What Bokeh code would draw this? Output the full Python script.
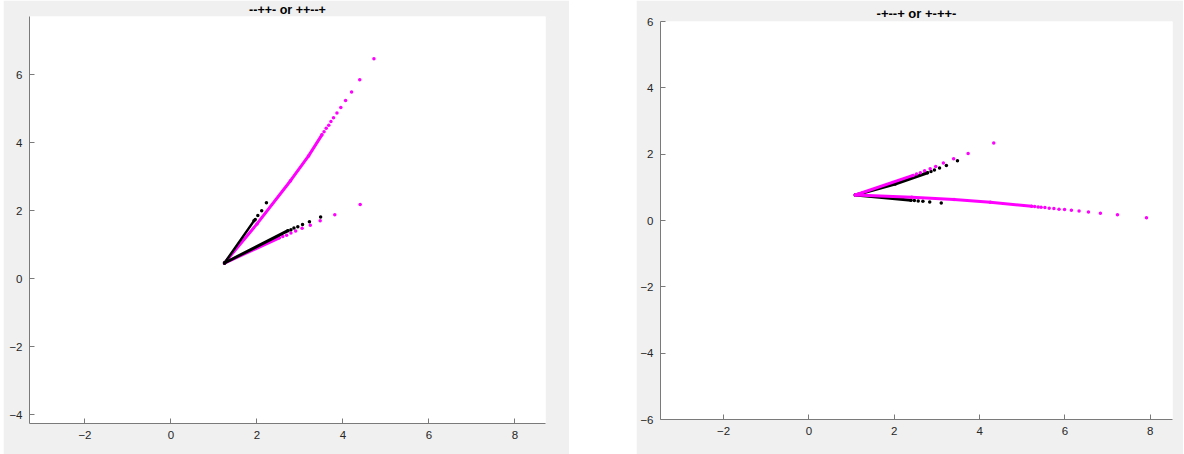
from bokeh.plotting import figure
from bokeh.layouts import row, column
from bokeh.models import Range1d, FixedTicker, Spacer
from bokeh.embed import file_html
from bokeh.resources import INLINE

# ---------------- data: left panel "--++- or ++--+" ----------------
LU_mag_band_x = [1.245, 2.0, 2.78, 3.2, 3.51]
LU_mag_band_y = [0.47, 1.62, 2.89, 3.62, 4.24]
LU_mag_dots_x = [3.56, 3.61, 3.67, 3.72, 3.78, 3.86, 3.95, 4.06, 4.20, 4.39, 4.72]
LU_mag_dots_y = [4.33, 4.43, 4.52, 4.63, 4.74, 4.88, 5.04, 5.25, 5.50, 5.86, 6.48]

LU_blk_band_x = [1.245, 1.93]
LU_blk_band_y = [0.47, 1.71]
LU_blk_dots_x = [1.96, 2.02, 2.11, 2.22]
LU_blk_dots_y = [1.75, 1.87, 2.01, 2.24]

LL_mag_band_x = [1.245, 2.52]
LL_mag_band_y = [0.47, 1.21]
LL_mag_dots_x = [2.60, 2.69, 2.79, 2.90, 3.05, 3.24, 3.47, 3.81, 4.40]
LL_mag_dots_y = [1.25, 1.29, 1.35, 1.41, 1.49, 1.58, 1.71, 1.89, 2.19]

LL_blk_band_x = [1.245, 2.72]
LL_blk_band_y = [0.47, 1.42]
LL_blk_dots_x = [2.79, 2.86, 2.95, 3.06, 3.22, 3.48]
LL_blk_dots_y = [1.45, 1.50, 1.54, 1.60, 1.68, 1.82]

# ---------------- data: right panel "-+--+ or +-++-" ----------------
RU_mag_band_x = [1.087, 2.44]
RU_mag_band_y = [0.77, 1.36]
RU_mag_dots_x = [2.52, 2.61, 2.71, 2.84, 2.97, 3.15, 3.39, 3.73, 4.33]
RU_mag_dots_y = [1.40, 1.44, 1.50, 1.56, 1.63, 1.73, 1.86, 2.02, 2.34]

RU_blk_band_x = [1.087, 2.02, 2.78]
RU_blk_band_y = [0.77, 1.10, 1.44]
RU_blk_dots_x = [2.86, 2.94, 3.06, 3.22, 3.48]
RU_blk_dots_y = [1.48, 1.52, 1.58, 1.66, 1.80]

RL_blk_band_x = [1.087, 2.39]
RL_blk_band_y = [0.77, 0.61]
RL_blk_dots_x = [2.47, 2.56, 2.67, 2.83, 3.10]
RL_blk_dots_y = [0.60, 0.59, 0.58, 0.56, 0.53]

RL_mag_band_x = [1.087, 2.41, 3.40, 4.25, 5.22]
RL_mag_band_y = [0.77, 0.70, 0.63, 0.55, 0.43]
RL_mag_dots_x = [5.29, 5.37, 5.44, 5.53, 5.63, 5.74, 5.86, 5.99, 6.15, 6.33, 6.55, 6.83, 7.23, 7.91]
RL_mag_dots_y = [0.42, 0.41, 0.40, 0.39, 0.37, 0.36, 0.34, 0.33, 0.31, 0.29, 0.26, 0.22, 0.17, 0.08]

left_title = "--++- or ++--+"
right_title = "-+--+ or +-++-"
left_xticks = [-2, 0, 2, 4, 6, 8]
left_yticks = [-4, -2, 0, 2, 4, 6]
right_xticks = [-2, 0, 2, 4, 6, 8]
right_yticks = [-6, -4, -2, 0, 2, 4, 6]

MAG = "#ff00ff"
BLK = "#000000"
FONT = "Liberation Sans"
PANEL = "#f0f0f0"


def make_fig(title, xr, yr, xt, yt, w, h, bl, br, bt, bb, tsize, tstand):
    p = figure(width=w, height=h, output_backend="svg", toolbar_location=None,
               x_range=Range1d(*xr), y_range=Range1d(*yr), title=title,
               min_border_left=bl, min_border_right=br,
               min_border_top=bt, min_border_bottom=bb)
    p.background_fill_color = "white"
    p.border_fill_color = PANEL
    p.outline_line_color = None
    p.grid.visible = False
    p.title.text_font = FONT
    p.title.text_font_size = tsize
    p.title.text_font_style = "bold"
    p.title.text_color = "#000000"
    p.title.align = "center"
    p.title.standoff = tstand
    for ax, ticks in ((p.xaxis[0], xt), (p.yaxis[0], yt)):
        ax.ticker = FixedTicker(ticks=ticks)
        ax.axis_line_color = "#7a7a7a"
        ax.major_tick_line_color = "#7a7a7a"
        ax.major_tick_in = 5
        ax.major_tick_out = 0
        ax.minor_tick_line_color = None
        ax.major_label_text_font = FONT
        ax.major_label_text_font_size = "11.5px"
        ax.major_label_text_color = "#262626"
        ax.major_label_standoff = 7
    return p


def arm(p, bx, by, dx, dy, color, lw):
    p.line(bx, by, line_color=color, line_width=lw, line_cap="round")
    p.scatter(bx, by, size=3.5, fill_color=color, line_color=None)
    p.scatter(dx, dy, size=3.5, fill_color=color, line_color=None)


H = 454
left = make_fig(left_title, (-3.29, 8.71), (-4.25, 7.72), left_xticks, left_yticks,
                566, H, 26, 24, 4, 31, "12.5px", 0)
arm(left, LU_mag_band_x, LU_mag_band_y, LU_mag_dots_x, LU_mag_dots_y, MAG, 3)
arm(left, LL_mag_band_x, LL_mag_band_y, LL_mag_dots_x, LL_mag_dots_y, MAG, 3)
arm(left, LU_blk_band_x, LU_blk_band_y, LU_blk_dots_x, LU_blk_dots_y, BLK, 2.5)
arm(left, LL_blk_band_x, LL_blk_band_y, LL_blk_dots_x, LL_blk_dots_y, BLK, 3)

right = make_fig(right_title, (-3.48, 8.52), (-6, 6), right_xticks, right_yticks,
                 547, H, 24, 11, 21, 35, "13px", 1)
arm(right, RU_blk_band_x, RU_blk_band_y, RU_blk_dots_x, RU_blk_dots_y, BLK, 3)
arm(right, RL_blk_band_x, RL_blk_band_y, RL_blk_dots_x, RL_blk_dots_y, BLK, 3)
arm(right, RU_mag_band_x, RU_mag_band_y, RU_mag_dots_x, RU_mag_dots_y, MAG, 3)
arm(right, RL_mag_band_x, RL_mag_band_y, RL_mag_dots_x, RL_mag_dots_y, MAG, 3)

layout = row(Spacer(width=3, height=H), column(left), Spacer(width=67, height=H), column(right))
open("out.html", "w").write(file_html(layout, INLINE))
